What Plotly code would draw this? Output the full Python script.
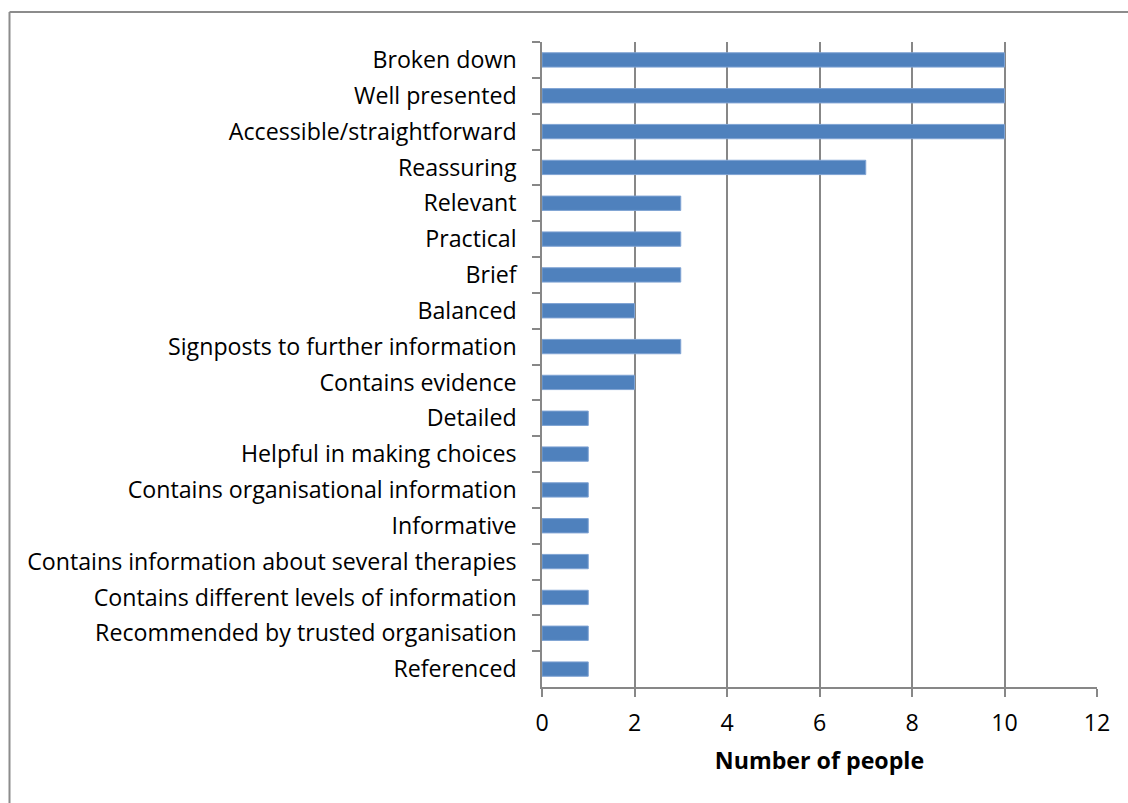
import plotly.graph_objects as go

categories = [
    "Broken down", "Well presented", "Accessible/straightforward", "Reassuring",
    "Relevant", "Practical", "Brief", "Balanced", "Signposts to further information",
    "Contains evidence", "Detailed", "Helpful in making choices",
    "Contains organisational information", "Informative",
    "Contains information about several therapies",
    "Contains different levels of information",
    "Recommended by trusted organisation", "Referenced",
]
values = [10, 10, 10, 7, 3, 3, 3, 2, 3, 2, 1, 1, 1, 1, 1, 1, 1, 1]
x_ticks = [0, 2, 4, 6, 8, 10, 12]

FONT = "Open Sans"
FS = 23.2
GRID = "#878787"

fig = go.Figure(go.Bar(
    x=values, y=categories, orientation="h", width=0.4,
    marker=dict(color="#4F81BD", line=dict(color="#7fa3d3", width=1)),
))

W, H = 1128, 803
L, R, T, B = 542, 1097, 42, 687

fig.update_layout(
    width=W, height=H,
    margin=dict(l=L, r=W - R, t=T, b=H - B),
    paper_bgcolor="white", plot_bgcolor="white",
    showlegend=False,
    font=dict(family=FONT, size=FS, color="black"),
    xaxis=dict(
        range=[0, 12], tickvals=x_ticks, showgrid=True, gridcolor=GRID, gridwidth=1.5,
        showline=True, linecolor=GRID, linewidth=1.5,
        ticks="outside", ticklen=8, tickcolor=GRID, tickwidth=1.5,
        tickfont=dict(size=FS), zeroline=False, ticklabelstandoff=6,
        title=dict(text="<b>Number of people</b>", font=dict(size=FS), standoff=16),
    ),
    yaxis=dict(
        type="category", categoryorder="array", categoryarray=categories,
        autorange="reversed", showgrid=False,
        showline=True, linecolor=GRID, linewidth=1.5,
        ticks="outside", ticklen=8, tickcolor=GRID, tickwidth=1.5, tickson="boundaries",
        tickfont=dict(size=FS), ticklabelstandoff=19,
    ),
    bargap=0.6,
)

# outer frame (left and top edges visible)
pw, ph = R - L, B - T
def px(x):
    return (x - L) / pw
def py(y):
    return (B - y) / ph
fig.add_shape(type="line", xref="paper", yref="paper",
              x0=px(9.5), x1=px(9.5), y0=py(830), y1=py(12),
              line=dict(color="#8c8c8c", width=2))
fig.add_shape(type="line", xref="paper", yref="paper",
              x0=px(9.5), x1=px(1140), y0=py(12), y1=py(12),
              line=dict(color="#8c8c8c", width=2))

fig.write_html("out.html")
